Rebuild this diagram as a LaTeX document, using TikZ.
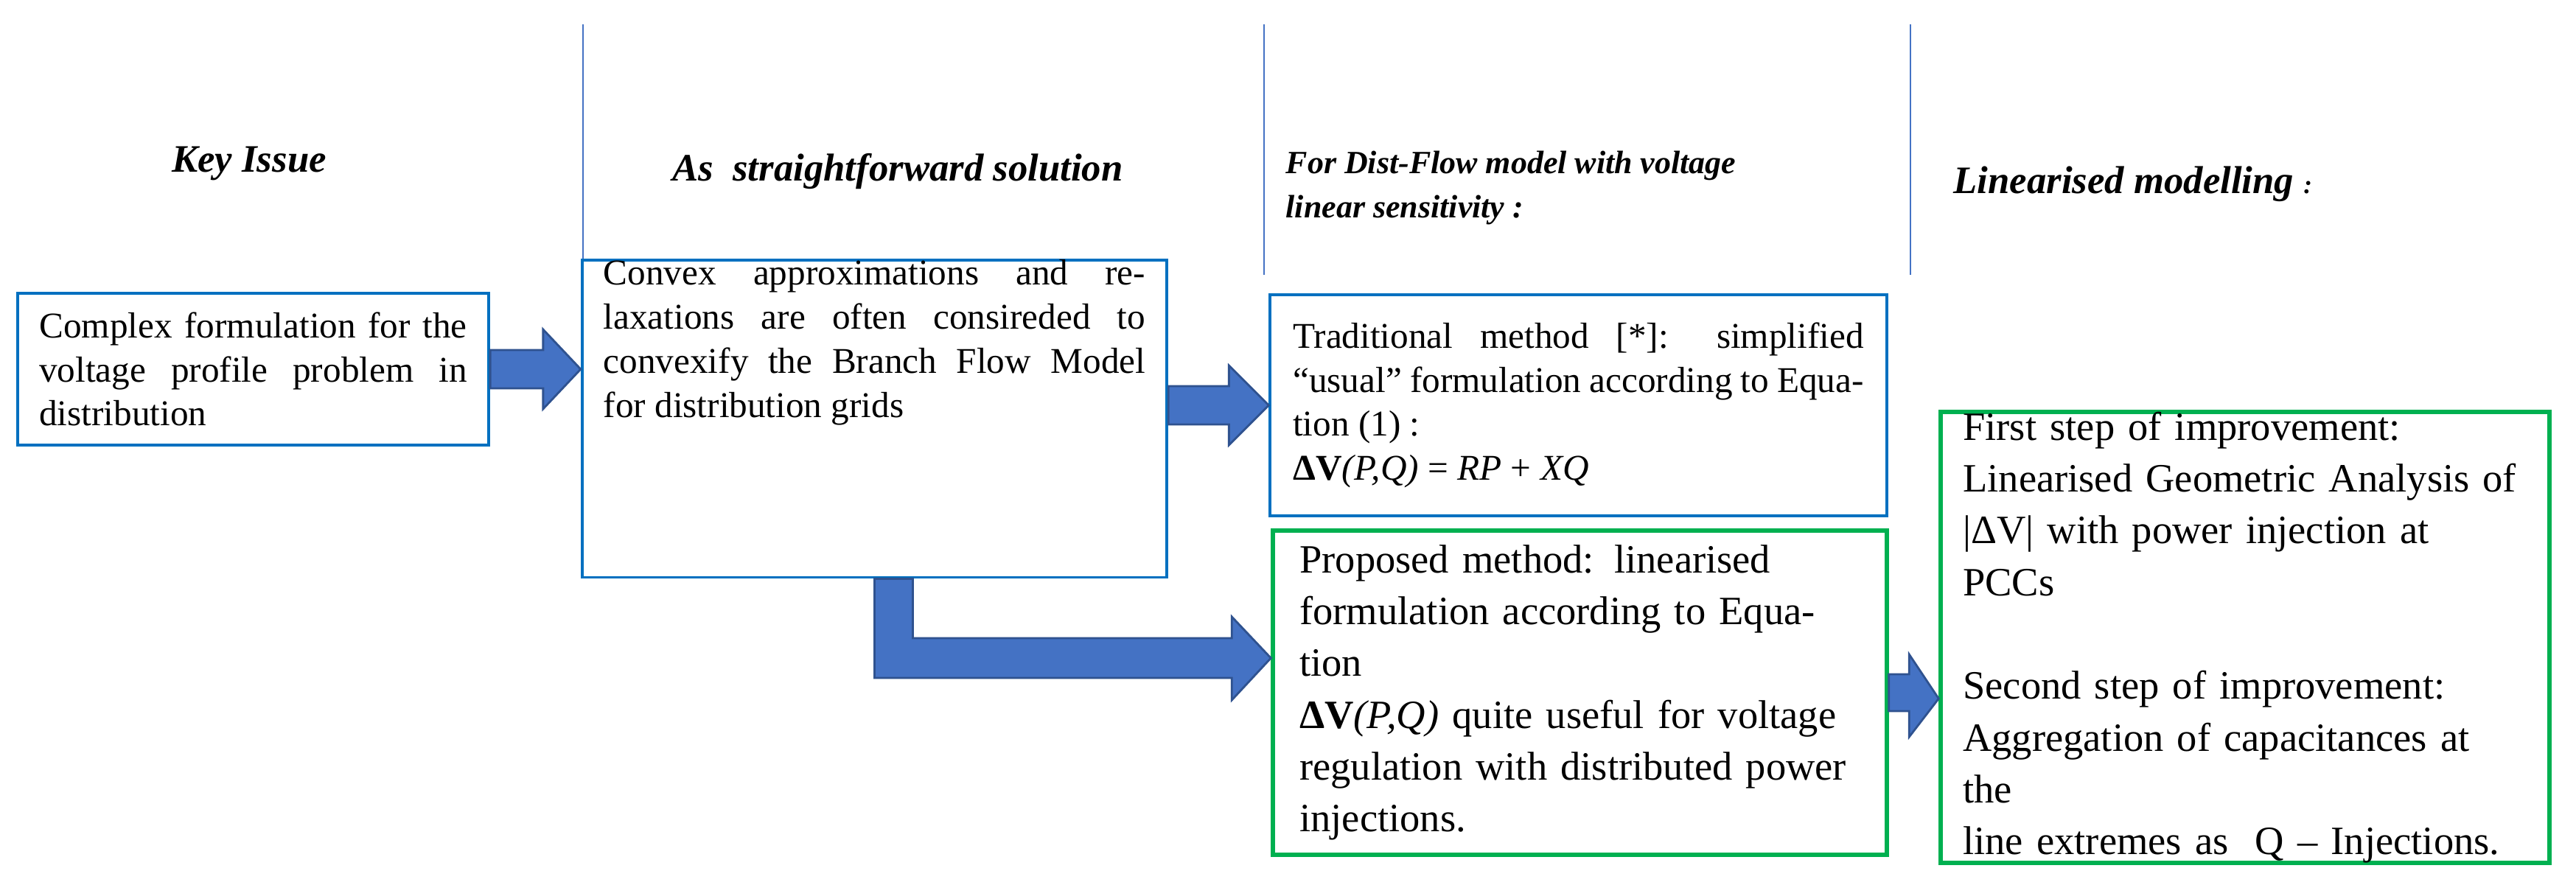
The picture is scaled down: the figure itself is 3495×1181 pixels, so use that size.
\documentclass[tikz,border=0pt]{standalone}
\usepackage{fontspec}
\setmainfont{Liberation Serif}
\usetikzlibrary{positioning,calc}
\definecolor{boxblue}{HTML}{0070C0}
\definecolor{boxgreen}{HTML}{00B050}
\definecolor{arrowfill}{HTML}{4472C4}
\definecolor{arrowedge}{HTML}{2F528F}
\tikzset{
  bluebox/.style   = {rectangle,draw=boxblue,line width=1.1pt,align=justify,font=\fontsize{14}{17}\selectfont,inner ysep=0pt},
  greenbox/.style  = {rectangle,draw=boxgreen,line width=1.7pt,align=left,font=\fontsize{15.5}{20}\selectfont,inner ysep=0pt},
  heading/.style   = {font=\fontsize{15}{18}\selectfont\bfseries\itshape,inner sep=0pt},
  separator/.style = {draw=arrowfill,line width=0.5pt},
  blockarrow/.style= {fill=arrowfill,draw=arrowedge,line width=0.8pt,line join=miter},
}

\begin{document}
\begin{tikzpicture}[x=0.01cm,y=-0.01cm]
\useasboundingbox (0,0) rectangle (3495,1181);
% column separators
\draw[separator] (791,33) -- (791,373);
\draw[separator] (1715,33) -- (1715,373);
\draw[separator] (2592,33) -- (2592,373);
% headings
\node[heading] (hkey) at (338,222) {Key Issue};
\node[heading] (hsol) at (1218,233) {As~ straightforward solution};
\node[heading,anchor=west,align=left,font=\fontsize{12.5}{17}\selectfont\bfseries\itshape] (hdist) at (1744,255) {For Dist-Flow model with voltage\\linear sensitivity :};
\node[heading,anchor=west] (hlin) at (2650,250) {Linearised modelling {\fontsize{10}{12}\selectfont:}};
% boxes
\node[bluebox,text width=5.8cm,inner xsep=0.295cm,minimum height=2.06cm] (issue) at (343.5,501)
  {Complex formulation for the voltage profile problem in distribution};
\node[bluebox,text width=7.35cm,inner xsep=0.29cm,minimum height=3.4cm] (convex) at (1186.5,568)
  {Convex approximations and relaxations are often consireded to convexify the Branch Flow Model for distribution grids\\[3.2em]};
\node[bluebox,text width=7.74cm,inner xsep=0.31cm,minimum height=3cm] (trad) at (2141.5,550)
  {Traditional method [*]: simplified ``usual'' formulation according to Equation (1) :\\
   \centering\textbf{ΔV}\textit{(P,Q)} = \textit{RP} + \textit{XQ}};
\node[greenbox,text width=7.6cm,inner xsep=0.36cm,minimum height=4.39cm] (prop) at (2143.5,940)
  {Proposed method: linearised\\formulation according to Equation\\\textbf{ΔV}\textit{(P,Q)} quite useful for voltage\\regulation with distributed power\\injections.};
\node[greenbox,text width=7.65cm,inner xsep=0.3cm,minimum height=5.63cm] (steps) at (3046,865)
  {First step of improvement:\\Linearised Geometric Analysis of\\|ΔV| with power injection at PCCs\\[20pt]
   Second step of improvement:\\Aggregation of capacitances at the\\line extremes as~ Q -- Injections.};
% block arrows
\coordinate (t1) at (convex.west |- issue.east);
\draw[blockarrow] ($(issue.east)+(0,-26)$) -- ($(t1)+(-51,-26)$) -- ($(t1)+(-51,-54)$) -- (t1)
  -- ($(t1)+(-51,54)$) -- ($(t1)+(-51,26)$) -- ($(issue.east)+(0,26)$) -- cycle;
\coordinate (s2) at (convex.east |- trad.west);
\draw[blockarrow] ($(s2)+(0,-26)$) -- ($(trad.west)+(-54,-26)$) -- ($(trad.west)+(-54,-54)$) -- (trad.west)
  -- ($(trad.west)+(-54,54)$) -- ($(trad.west)+(-54,26)$) -- ($(s2)+(0,26)$) -- cycle;
\coordinate (t3) at ($(prop.west)+(0,-47)$);
\draw[blockarrow] (convex.south) -- ($(convex.south)+(52,0)$) |- ($(t3)+(-53,-27)$) -- ($(t3)+(-53,-56)$) -- (t3)
  -- ($(t3)+(-53,57)$) -- ($(t3)+(-53,27)$) -- ($(convex.south |- t3)+(0,27)$) -- cycle;
\coordinate (t4) at (steps.west |- prop.east);
\draw[blockarrow] ($(prop.east)+(0,-25)$) -- ($(t4)+(-40,-25)$) -- ($(t4)+(-40,-52)$) -- ($(t4)+(0,8)$)
  -- ($(t4)+(-40,60)$) -- ($(t4)+(-40,25)$) -- ($(prop.east)+(0,25)$) -- cycle;
\end{tikzpicture}
\end{document}
